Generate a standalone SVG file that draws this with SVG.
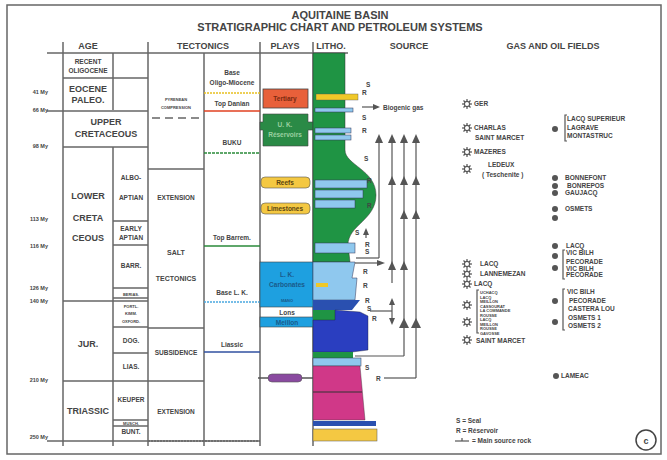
<svg xmlns="http://www.w3.org/2000/svg" width="667" height="460" viewBox="0 0 667 460">
<style>
text{font-family:"Liberation Sans",Arial,sans-serif;font-weight:bold;fill:#444}
.h{font-size:11px}
.t{font-size:9px}
.s{font-size:6.5px}
.xs{font-size:4px}
.my{font-size:5.5px}
.g{stroke:#666;stroke-width:1.5;fill:none}
.a{stroke:#555;stroke-width:1.2;fill:none}
.lb{fill:#8fc8ee;stroke:#335;stroke-width:0.5}
</style>
<defs>
<symbol id="sun" viewBox="-6 -6 12 12" overflow="visible">
<g stroke="#555" stroke-width="1.2"><line x1="-5" y1="0" x2="5" y2="0"/><line x1="0" y1="-5" x2="0" y2="5"/><line x1="-3.5" y1="-3.5" x2="3.5" y2="3.5"/><line x1="-3.5" y1="3.5" x2="3.5" y2="-3.5"/></g>
<circle r="2.6" fill="#fff" stroke="#555" stroke-width="1.2"/>
</symbol>
</defs>
<rect x="0" y="0" width="667" height="460" fill="#fff"/>
<rect x="7" y="5" width="654" height="449" fill="none" stroke="#666" stroke-width="1.5"/>
<text x="340" y="19" text-anchor="middle" class="h">AQUITAINE BASIN</text>
<text x="340" y="31" text-anchor="middle" class="h">STRATIGRAPHIC CHART AND PETROLEUM SYSTEMS</text>
<g id="headers">
<text x="88" y="49" text-anchor="middle" class="t">AGE</text>
<text x="203" y="49" text-anchor="middle" class="t">TECTONICS</text>
<text x="285" y="49" text-anchor="middle" class="t">PLAYS</text>
<text x="331" y="49" text-anchor="middle" class="t">LITHO.</text>
<text x="409" y="49" text-anchor="middle" class="t">SOURCE</text>
<text x="553" y="49" text-anchor="middle" class="t">GAS AND OIL FIELDS</text>
</g>
<g id="grid" class="g">
<line x1="47" y1="53" x2="348" y2="53"/>
<line x1="63" y1="42" x2="63" y2="446"/>
<line x1="148" y1="42" x2="148" y2="446"/>
<line x1="260" y1="42" x2="260" y2="446"/>
<line x1="313" y1="42" x2="313" y2="446"/>
<line x1="113" y1="53" x2="113" y2="110"/>
<line x1="113" y1="147" x2="113" y2="446"/>
<line x1="204" y1="53" x2="204" y2="446"/>
<line x1="63" y1="78" x2="148" y2="78"/>
<line x1="47" y1="111" x2="148" y2="111"/>
<line x1="63" y1="147" x2="148" y2="147"/>
<line x1="113" y1="221" x2="148" y2="221"/>
<line x1="113" y1="245" x2="148" y2="245"/>
<line x1="113" y1="288" x2="148" y2="288"/>
<line x1="113" y1="298" x2="148" y2="298"/>
<line x1="63" y1="301" x2="148" y2="301"/>
<line x1="113" y1="327" x2="148" y2="327"/>
<line x1="113" y1="353" x2="148" y2="353"/>
<line x1="63" y1="381" x2="204" y2="381"/>
<line x1="113" y1="420" x2="148" y2="420"/>
<line x1="113" y1="426" x2="148" y2="426"/>
<line x1="47" y1="441" x2="260" y2="441"/>
<line x1="148" y1="169" x2="204" y2="169"/>
<line x1="148" y1="328" x2="204" y2="328"/>
<line x1="152" y1="118" x2="204" y2="118" stroke-dasharray="8,5"/>
<line x1="204" y1="93" x2="260" y2="93" stroke="#e8c020" stroke-dasharray="2,1"/>
<line x1="204" y1="111" x2="260" y2="111" stroke="#e04020"/>
<line x1="204" y1="153" x2="260" y2="153" stroke="#2a8a3a" stroke-dasharray="3,1"/>
<line x1="204" y1="246" x2="260" y2="246" stroke="#2a8a3a"/>
<line x1="204" y1="302" x2="260" y2="302" stroke="#4aa8e0" stroke-dasharray="2,1"/>
<line x1="204" y1="352" x2="260" y2="352" stroke="#3050a0"/>
<line x1="148" y1="441" x2="260" y2="441" stroke-dasharray="2,1"/>
</g>
<g id="myr">
<text x="48" y="94" text-anchor="end" class="my">41 My</text>
<text x="48" y="112" text-anchor="end" class="my">66 My</text>
<text x="48" y="148" text-anchor="end" class="my">98 My</text>
<text x="48" y="221" text-anchor="end" class="my">113 My</text>
<text x="48" y="248" text-anchor="end" class="my">116 My</text>
<text x="48" y="290" text-anchor="end" class="my">126 My</text>
<text x="48" y="303" text-anchor="end" class="my">140 My</text>
<text x="48" y="382" text-anchor="end" class="my">210 My</text>
<text x="48" y="439" text-anchor="end" class="my">250 My</text>
</g>
<g id="age">
<text x="88" y="64" text-anchor="middle" class="s">RECENT</text>
<text x="88" y="73" text-anchor="middle" class="s">OLIGOCENE</text>
<text x="88" y="92" text-anchor="middle" class="t">EOCENE</text>
<text x="88" y="103" text-anchor="middle" class="t">PALEO.</text>
<text x="106" y="125" text-anchor="middle" class="t">UPPER</text>
<text x="106" y="137" text-anchor="middle" class="t">CRETACEOUS</text>
<text x="88" y="199" text-anchor="middle" class="t">LOWER</text>
<text x="88" y="221" text-anchor="middle" class="t">CRETA</text>
<text x="88" y="241" text-anchor="middle" class="t">CEOUS</text>
<text x="88" y="347" text-anchor="middle" class="t">JUR.</text>
<text x="88" y="414" text-anchor="middle" class="t">TRIASSIC</text>
<text x="131" y="180" text-anchor="middle" class="s">ALBO-</text>
<text x="131" y="200" text-anchor="middle" class="s">APTIAN</text>
<text x="131" y="231" text-anchor="middle" class="s">EARLY</text>
<text x="131" y="240" text-anchor="middle" class="s">APTIAN</text>
<text x="131" y="268" text-anchor="middle" class="s">BARR.</text>
<text x="131" y="296" text-anchor="middle" class="xs">BERIAS.</text>
<text x="131" y="308" text-anchor="middle" class="xs">PORTL.</text>
<text x="131" y="315" text-anchor="middle" class="xs">KIMM.</text>
<text x="131" y="323" text-anchor="middle" class="xs">OXFORD.</text>
<text x="131" y="343" text-anchor="middle" class="s">DOG.</text>
<text x="131" y="369" text-anchor="middle" class="s">LIAS.</text>
<text x="131" y="402" text-anchor="middle" class="s">KEUPER</text>
<text x="131" y="425" text-anchor="middle" class="xs">MUSCH.</text>
<text x="131" y="434" text-anchor="middle" class="s">BUNT.</text>
</g>
<g id="tectonics">
<text x="176" y="101" text-anchor="middle" class="xs">PYRENEAN</text>
<text x="176" y="109" text-anchor="middle" class="xs">COMPRESSION</text>
<text x="176" y="200" text-anchor="middle" class="s">EXTENSION</text>
<text x="176" y="255" text-anchor="middle" class="t" style="font-size:7px">SALT</text>
<text x="176" y="281" text-anchor="middle" class="t" style="font-size:7px">TECTONICS</text>
<text x="176" y="355" text-anchor="middle" class="s">SUBSIDENCE</text>
<text x="176" y="414" text-anchor="middle" class="s">EXTENSION</text>
<text x="232" y="75" text-anchor="middle" class="s">Base</text>
<text x="232" y="85" text-anchor="middle" class="s">Oligo-Miocene</text>
<text x="232" y="106" text-anchor="middle" class="s">Top Danian</text>
<text x="232" y="145" text-anchor="middle" class="s">BUKU</text>
<text x="232" y="240" text-anchor="middle" class="s">Top Barrem.</text>
<text x="232" y="295" text-anchor="middle" class="s">Base L. K.</text>
<text x="232" y="347" text-anchor="middle" class="s">Liassic</text>
</g>
<g id="plays">
<rect x="263" y="89" width="45" height="19" fill="#e8603a" stroke="#444" stroke-width="0.8"/>
<text x="285" y="101" text-anchor="middle" class="s" style="fill:#7a2a10">Tertiary</text>
<polygon points="263,114 308,114 308,122 313,122 313,130 308,130 308,146 263,146 263,130 260,130 260,122 263,122" fill="#2a8a46" stroke="#444" stroke-width="0.6"/>
<text x="285" y="127" text-anchor="middle" class="s" style="fill:#9ad0a0">U. K.</text>
<text x="285" y="137" text-anchor="middle" class="s" style="fill:#9ad0a0">Réservoirs</text>
<rect x="261" y="177" width="49" height="11" rx="4" fill="#f4c842" stroke="#555" stroke-width="0.6"/>
<text x="285" y="185" text-anchor="middle" class="s" style="fill:#5a4410">Reefs</text>
<rect x="261" y="203" width="49" height="11" rx="4" fill="#f4c842" stroke="#555" stroke-width="0.6"/>
<text x="285" y="211" text-anchor="middle" class="s" style="fill:#5a4410">Limestones</text>
<rect x="260" y="262" width="53" height="45" fill="#1ea0e0" stroke="#444" stroke-width="0.6"/>
<text x="287" y="277" text-anchor="middle" class="s" style="fill:#1a5a8a">L. K.</text>
<text x="287" y="287" text-anchor="middle" class="s" style="fill:#1a5a8a">Carbonates</text>
<text x="287" y="302" text-anchor="middle" class="xs" style="fill:#1a5a8a">MANO</text>
<text x="287" y="315" text-anchor="middle" class="s">Lons</text>
<rect x="260" y="317" width="53" height="10" fill="#1ea0e0" stroke="#444" stroke-width="0.6"/>
<text x="287" y="325" text-anchor="middle" class="s" style="fill:#1a5a8a">Meillon</text>
<line x1="258" y1="378" x2="360" y2="378" stroke="#555" stroke-width="1.5"/>
<rect x="268" y="374" width="34" height="8" rx="4" fill="#8a4aa0" stroke="#555" stroke-width="0.6"/>
</g>
<g id="litho">
<path d="M313,53 L345,53 L345,150 C345,165 376,170 376,195 C376,220 348,225 348,245 L350,262 L313,262 Z" fill="#1f9444" stroke="#333" stroke-width="0.5"/>
<rect x="316" y="94" width="42" height="6" fill="#f0c828" stroke="#555" stroke-width="0.4"/>
<rect x="315" y="108" width="38" height="4" class="lb"/>
<rect x="315" y="128" width="36" height="5" class="lb"/>
<rect x="315" y="135" width="36" height="5" class="lb"/>
<rect x="315" y="180" width="52" height="8" class="lb"/>
<rect x="315" y="190" width="48" height="8" class="lb"/>
<rect x="315" y="200" width="40" height="8" class="lb"/>
<rect x="315" y="243" width="40" height="10" class="lb"/>
<polygon points="313,262 355,262 352,278 357,278 355,300 313,300" fill="#8fc8ee" stroke="#335" stroke-width="0.5"/>
<rect x="316" y="283" width="12" height="4" fill="#f0c828"/>
<polygon points="313,300 360,300 352,310 313,310" fill="#2a50b0"/>
<rect x="313" y="310" width="22" height="10" fill="#1f9444"/>
<polygon points="335,310 360,312 368,316 368,350 352,352 313,352 313,320 335,320" fill="#2a3ec0" stroke="#223" stroke-width="0.4"/>
<rect x="313" y="352" width="40" height="6" fill="#1f9444"/>
<rect x="313" y="358" width="48" height="8" class="lb"/>
<polygon points="313,366 360,366 365,420 313,420" fill="#d03888" stroke="#333" stroke-width="0.4"/>
<line x1="313" y1="392" x2="362" y2="392" stroke="#333"/>
<rect x="313" y="421" width="63" height="5" fill="#2a50b0"/>
<rect x="313" y="429" width="64" height="12" fill="#f4c842" stroke="#555" stroke-width="0.5"/>
</g>
<g id="sr" class="s">
<text x="366" y="87">S</text><text x="362" y="95">R</text>
<text x="362" y="120">S</text><text x="362" y="133">R</text>
<text x="364" y="161">S</text><text x="367" y="183">R</text>
<text x="367" y="208">R</text><text x="355" y="235">S</text>
<text x="365" y="247">R</text><text x="365" y="254">S</text>
<text x="363" y="274">R</text><text x="363" y="288">R</text>
<text x="365" y="303">R</text><text x="367" y="311">S</text>
<text x="372" y="321">R</text><text x="365" y="370">S</text><text x="376" y="381">R</text>
</g>
<g id="connectors" class="a">
<line x1="362" y1="107" x2="376" y2="107"/><polygon points="380,107 373,104 373,110" fill="#555" stroke="none"/>
<line x1="366" y1="232" x2="366" y2="238"/>
<line x1="379" y1="138" x2="379" y2="258"/><line x1="379" y1="258" x2="356" y2="258"/>
<line x1="355" y1="263" x2="378" y2="263"/><polygon points="385,263 377,260 377,266" fill="#555" stroke="none"/>
<line x1="392" y1="138" x2="392" y2="283"/>
<line x1="370" y1="311" x2="392" y2="311"/><line x1="392" y1="302" x2="392" y2="318"/>
<polygon points="392,325 389,318 395,318" fill="#555" stroke="none"/>
<line x1="404" y1="138" x2="404" y2="356"/><line x1="404" y1="356" x2="355" y2="356"/>
<line x1="416" y1="138" x2="416" y2="378"/><line x1="416" y1="378" x2="384" y2="378"/>
</g>
<g id="arrowheads" fill="#555">
<polygon points="366,228 363,235 369,235"/>
<polygon points="379,134 375,143 383,143"/><polygon points="392,134 388,143 396,143"/><polygon points="404,134 400,143 408,143"/><polygon points="416,134 412,143 420,143"/>
<polygon points="392,176 388,185 396,185"/><polygon points="404,176 400,185 408,185"/><polygon points="416,176 412,185 420,185"/>
<polygon points="404,210 400,219 408,219"/><polygon points="416,210 412,219 420,219"/>
<polygon points="392,261 388,270 396,270"/><polygon points="404,261 400,270 408,270"/>
<polygon points="392,298 389,305 395,305"/>
<polygon points="404,318 399,328 409,328"/><polygon points="416,318 411,328 421,328"/>
</g>
<text x="383" y="110" class="s">Biogenic gas</text>
<g id="gas">
<use href="#sun" x="461" y="98" width="12" height="12"/><text x="474" y="106" class="s">GER</text>
<use href="#sun" x="461" y="122" width="12" height="12"/><text x="474" y="130" class="s">CHARLAS</text><text x="475" y="140" class="s">SAINT MARCET</text>
<use href="#sun" x="461" y="146" width="12" height="12"/><text x="474" y="154" class="s">MAZERES</text>
<use href="#sun" x="461" y="163" width="12" height="12"/><text x="488" y="167" class="s">LEDEUX</text><text x="482" y="177" class="s">( Teschenite )</text>
<use href="#sun" x="461" y="258" width="12" height="12"/><text x="480" y="266" class="s">LACQ</text>
<use href="#sun" x="461" y="268" width="12" height="12"/><text x="480" y="276" class="s">LANNEMEZAN</text>
<use href="#sun" x="461" y="278" width="12" height="12"/><text x="474" y="286" class="s">LACQ</text>
<path d="M479,290 L477,290 L477,333 L479,333" class="a" stroke-width="0.8"/>
<text x="480" y="294" class="xs">UCHACQ</text><text x="480" y="298.5" class="xs">LACQ</text><text x="480" y="303" class="xs">MEILLON</text><text x="480" y="307.5" class="xs">CASSOURAT</text><text x="480" y="312" class="xs">LA COMMANDE</text><text x="480" y="316.5" class="xs">ROUSSE</text><text x="480" y="321" class="xs">LACQ</text><text x="480" y="325.5" class="xs">MEILLON</text><text x="480" y="330" class="xs">ROUSSE</text><text x="480" y="334.5" class="xs">GAVOSSE</text>
<use href="#sun" x="461" y="299" width="12" height="12"/>
<use href="#sun" x="461" y="316" width="12" height="12"/>
<use href="#sun" x="461" y="334" width="12" height="12"/><text x="476" y="343" class="s">SAINT MARCET</text>
</g>
<g id="oil" fill="#555">
<circle cx="555" cy="129" r="3"/><path d="M567,115 L565,115 L565,141 L567,141" class="a" stroke-width="0.8"/>
<text x="567" y="121" class="s">LACQ SUPERIEUR</text><text x="567" y="130" class="s">LAGRAVE</text><text x="567" y="138" class="s">MONTASTRUC</text>
<circle cx="555" cy="178" r="3"/><circle cx="555" cy="186" r="3"/><circle cx="555" cy="193" r="3"/>
<text x="565" y="180" class="s">BONNEFONT</text><text x="567" y="188" class="s">BONREPOS</text><text x="565" y="195" class="s">GAUJACQ</text>
<circle cx="555" cy="209" r="3"/><circle cx="555" cy="218" r="3"/><text x="565" y="211" class="s">OSMETS</text>
<circle cx="555" cy="246" r="3"/><circle cx="555" cy="256" r="3"/><circle cx="555" cy="268" r="3"/>
<path d="M565,250 L563,250 L563,279 L565,279" class="a" stroke-width="0.8"/>
<text x="566" y="248" class="s">LACQ</text><text x="566" y="255" class="s">VIC BILH</text><text x="566" y="264" class="s">PECORADE</text><text x="566" y="271" class="s">VIC BILH</text><text x="566" y="277" class="s">PECORADE</text>
<circle cx="555" cy="301" r="3"/><circle cx="555" cy="322" r="3"/>
<path d="M565,289 L563,289 L563,330 L565,330" class="a" stroke-width="0.8"/>
<text x="567" y="294" class="s">VIC BILH</text><text x="569" y="303" class="s">PECORADE</text><text x="568" y="311" class="s">CASTERA LOU</text><text x="568" y="320" class="s">OSMETS 1</text><text x="568" y="328" class="s">OSMETS 2</text>
<circle cx="556" cy="376" r="3"/><text x="561" y="378" class="s">LAMEAC</text>
</g>
<g id="legend">
<text x="456" y="423" class="s">S   =  Seal</text>
<text x="456" y="433" class="s">R   = Réservoir</text>
<line x1="455" y1="441" x2="469" y2="441" class="a"/><line x1="462" y1="438" x2="462" y2="441" class="a"/>
<text x="472" y="443" class="s">= Main source rock</text>
<circle cx="646" cy="440" r="10" fill="none" stroke="#444" stroke-width="1.5"/>
<text x="646" y="444" text-anchor="middle" class="t">c</text>
</g>
</svg>
